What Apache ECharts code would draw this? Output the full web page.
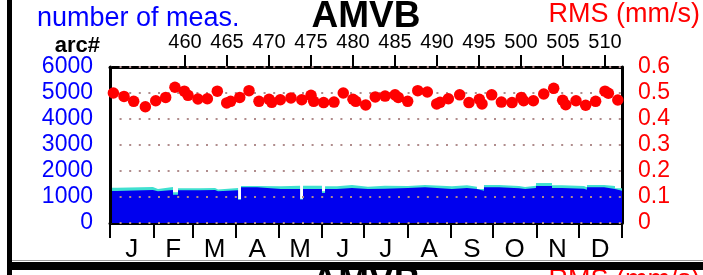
<!DOCTYPE html>
<html><head><meta charset="utf-8">
<script src="https://cdn.jsdelivr.net/npm/echarts@6/dist/echarts.min.js"></script>
<style>html,body{margin:0;padding:0;background:#fff}#c{width:703px;height:275px}</style>
</head><body><div id="c"></div>
<script>
// ---- data ----
const monthLabels = ['J','F','M','A','M','J','J','A','S','O','N','D'];
const monthStartDays = [0,31,59,90,120,151,181,212,243,273,304,334,365];
const arcTicks = [460,465,470,475,480,485,490,495,500,505,510];
const arcMin = 451.07, arcMax = 512.02;
// number of measurements per arc segment (start day of segment)
const segStartDay = [0,5,30.6,34.2,44.9,48.5,64.2,74.9,77,91.3,93.4,104.8,121.9,135.5,137.6,151.1,153.3,161.8,172.5,183.9,196,212.4,224.6,243.8,254.5,261.6,266.6,277.3,291.6,295.9,303.7,315.1,322.2,337.9,340,352.2,360];
const blueCounts = [1230,1269,1218,1269,1090,1256,1269,1218,1256,890,1372,1308,1308,900,1308,1154,1308,1346,1308,1320,1346,1372,1308,1346,1308,1244,1372,1333,1308,1346,1423,1346,1320,1282,1372,1308,1244];
const cyanCounts = [130,116,92,116,90,77,77,72,90,30,51,102,128,30,128,64,102,114,89,116,77,88,102,104,89,64,88,90,77,90,115,104,103,90,88,115,89];
const rmsDay = [2.4,10.0,16.9,25.2,32.6,39.7,46.3,53.0,55.6,62.7,69.4,76.5,83.2,86.0,92.5,99.1,106.2,113.4,115.3,121.4,129.0,136.7,143.3,145.2,152.3,159.7,166.3,173.2,175.2,182.3,189.1,196.1,203.2,205.5,212.2,219.4,226.2,232.9,235.3,241.2,249.3,255.9,263.3,265.2,272.1,279.0,286.6,293.2,294.9,301.8,309.2,316.3,322.7,324.9,332.2,339.1,346.2,352.9,355.3,362.0];
const rmsValues = [0.500,0.487,0.468,0.447,0.470,0.483,0.522,0.507,0.491,0.477,0.478,0.507,0.462,0.468,0.483,0.509,0.468,0.476,0.464,0.474,0.481,0.474,0.491,0.468,0.463,0.465,0.500,0.476,0.468,0.454,0.485,0.488,0.493,0.483,0.468,0.509,0.504,0.458,0.464,0.478,0.493,0.463,0.476,0.458,0.493,0.465,0.463,0.483,0.470,0.470,0.496,0.518,0.472,0.455,0.470,0.453,0.468,0.507,0.499,0.473];

// ---- build ----
const FONT = 'Liberation Sans';
const endDay = monthStartDays[monthStartDays.length-1];
function stepData(vals){
  const d = segStartDay.map((s,i)=>[s, vals[i]]);
  d.push([endDay, vals[vals.length-1]]);
  return d;
}
const totals = blueCounts.map((b,i)=>b+cyanCounts[i]);
const monthMids = monthLabels.map((m,i)=>(monthStartDays[i]+monthStartDays[i+1])/2);

const chart = echarts.init(document.getElementById('c'), null, {renderer:'canvas'});
chart.setOption({
  animation:false,
  backgroundColor:'#fff',
  grid:{left:110,right:81,top:67,bottom:52,containLabel:false},
  xAxis:[
    {type:'value',position:'bottom',min:0,max:endDay,
     axisLine:{show:true,onZero:false,lineStyle:{color:'#000',width:3}},
     axisTick:{show:true,customValues:monthStartDays,length:15,lineStyle:{color:'#000',width:2}},
     axisLabel:{show:true,customValues:monthMids,margin:14,color:'#000',fontFamily:FONT,fontSize:26,
       formatter:function(v){let i=0;while(i<monthLabels.length-1 && monthStartDays[i+1]<=v) i++;return monthLabels[i];}},
     splitLine:{show:false}},
    {type:'value',position:'top',min:arcMin,max:arcMax,
     axisLine:{show:true,onZero:false,lineStyle:{color:'#000',width:3}},
     axisTick:{show:true,customValues:arcTicks,length:12,lineStyle:{color:'#000',width:2}},
     axisLabel:{show:true,customValues:arcTicks,margin:15,color:'#000',fontFamily:FONT,fontSize:20,formatter:v=>String(v)},
     splitLine:{show:false}}
  ],
  yAxis:[
    {type:'value',position:'left',min:0,max:6000,interval:1000,z:3,
     axisLine:{show:true,onZero:false,lineStyle:{color:'#000',width:3}},
     axisTick:{show:false},
     axisLabel:{margin:17,color:'#0000ff',fontFamily:FONT,fontSize:23,formatter:v=>String(v)},
     splitLine:{show:true,lineStyle:{color:'#b08c8c',width:2,type:[2,7.6]}}},
    {type:'value',position:'right',min:0,max:0.6,interval:0.1,
     axisLine:{show:true,onZero:false,lineStyle:{color:'#000',width:3}},
     axisTick:{show:false},
     axisLabel:{margin:16,color:'#ff0000',fontFamily:FONT,fontSize:23,formatter:v=>v===0?'0':v.toFixed(1)},
     splitLine:{show:false}}
  ],
  series:[
    {type:'line',name:'total',xAxisIndex:0,yAxisIndex:0,step:'end',showSymbol:false,symbol:'none',
     lineStyle:{width:0,opacity:0},areaStyle:{color:'#40e0d0',opacity:1},data:stepData(totals),z:1},
    {type:'line',name:'blue',xAxisIndex:0,yAxisIndex:0,step:'end',showSymbol:false,symbol:'none',
     lineStyle:{width:0,opacity:0},areaStyle:{color:'#0000ee',opacity:1},data:stepData(blueCounts),z:2},
    {type:'scatter',name:'RMS',xAxisIndex:0,yAxisIndex:1,symbolSize:11.5,itemStyle:{color:'#ff0000',opacity:1},
     data:rmsDay.map((d,i)=>[d,rmsValues[i]]),z:10}
  ],
  graphic:[
    {type:'text',x:37,y:19,z:5,style:{text:'number of meas.',fill:'#0000ff',font:'27px "Liberation Sans"',textAlign:'left',textVerticalAlign:'middle'}},
    {type:'text',x:366,y:17,z:5,style:{text:'AMVB',fill:'#000',font:'bold 37px "Liberation Sans"',textAlign:'center',textVerticalAlign:'middle'}},
    {type:'text',x:700,y:15,z:5,style:{text:'RMS (mm/s)',fill:'#ff0000',font:'27px "Liberation Sans"',textAlign:'right',textVerticalAlign:'middle'}},
    {type:'text',x:100,y:46,z:5,style:{text:'arc#',fill:'#000',font:'bold 22px "Liberation Sans"',textAlign:'right',textVerticalAlign:'middle'}},
    {type:'text',x:366,y:283,z:5,style:{text:'AMVB',fill:'#000',font:'bold 37px "Liberation Sans"',textAlign:'center',textVerticalAlign:'middle'}},
    {type:'text',x:700,y:281,z:5,style:{text:'RMS (mm/s)',fill:'#ff0000',font:'27px "Liberation Sans"',textAlign:'right',textVerticalAlign:'middle'}},
    {type:'rect',z:6,shape:{x:7,y:0,width:5,height:275},style:{fill:'#000'}},
    {type:'rect',z:6,shape:{x:12,y:260,width:691,height:1},style:{fill:'#9a9a9a'}},
    {type:'rect',z:6,shape:{x:7,y:262,width:696,height:8},style:{fill:'#000'}}
  ]
});
</script>
</body></html>
